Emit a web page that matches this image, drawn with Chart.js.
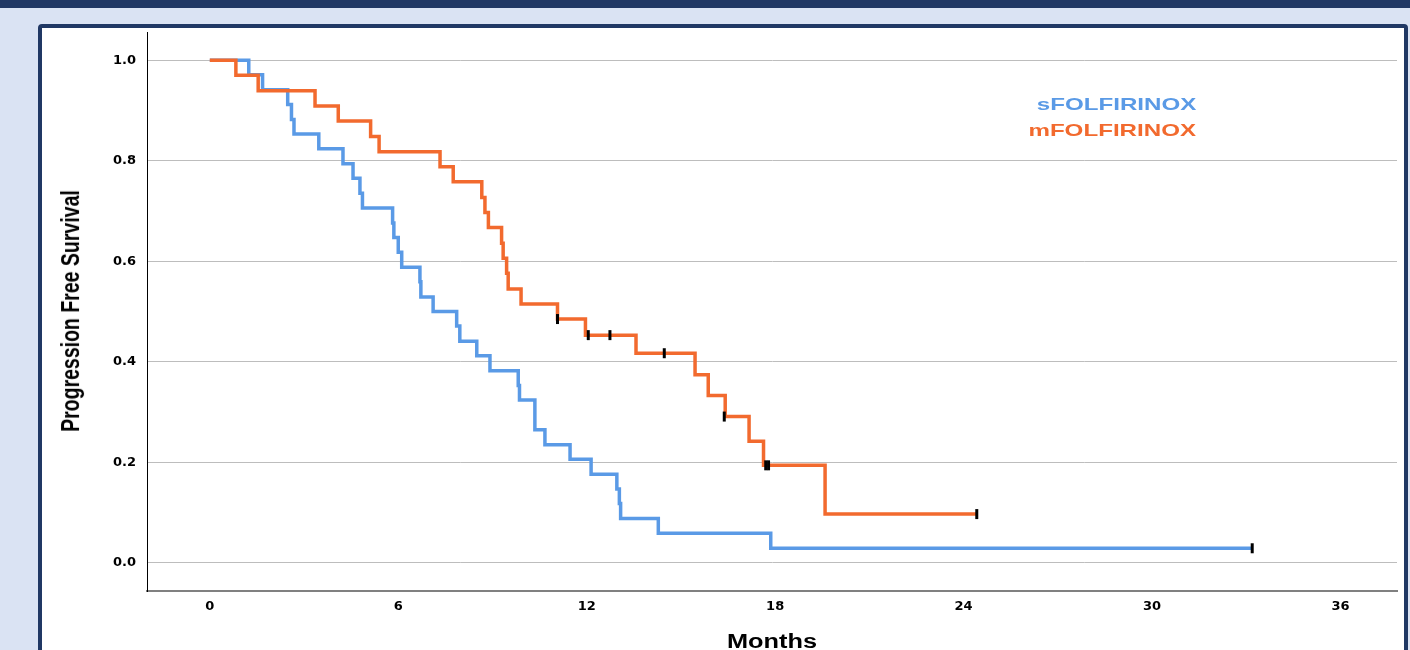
<!DOCTYPE html>
<html>
<head>
<meta charset="utf-8">
<title>Progression Free Survival</title>
<script src="https://cdn.jsdelivr.net/npm/chart.js@4.4.0/dist/chart.umd.min.js"></script>
<style>
  html, body {
    margin: 0;
    padding: 0;
    width: 1410px;
    height: 650px;
    overflow: hidden;
    background: #dae3f3;
    font-family: 'Liberation Sans', Arial, sans-serif;
  }
  .top-bar {
    position: absolute;
    left: 0; top: 0;
    width: 1410px; height: 8px;
    background: #203864;
  }
  .panel {
    position: absolute;
    left: 38px; top: 24px;
    width: 1370px; height: 700px;
    box-sizing: border-box;
    border: 4px solid #203864;
    border-radius: 4px;
    background: #ffffff;
  }
  #km-chart {
    position: absolute;
    left: 0; top: 0;
  }
  .label {
    position: absolute;
    font-weight: bold;
    white-space: nowrap;
  }
  .legend-item {
    right: 214px;
    font-size: 17px;
    transform-origin: right center;
    transform: scaleX(1.42);
  }
  .y-title {
    left: 71px; top: 311px;
    font-size: 19.5px;
    color: #000;
    transform: translate(-50%, -50%) scaleX(1.3) rotate(-90deg);
  }
  .x-title {
    left: 772px; top: 641px;
    font-size: 19.5px;
    color: #000;
    transform: translate(-50%, -50%) scaleX(1.3);
  }
</style>
</head>
<body>
<div class="top-bar"></div>
<div class="panel"></div>
<canvas id="km-chart" width="1410" height="650"></canvas>
<div class="label legend-item" style="top:95px;color:#5a9ae6">sFOLFIRINOX</div>
<div class="label legend-item" style="top:121px;color:#f26a2e">mFOLFIRINOX</div>
<div class="label y-title">Progression Free Survival</div>
<div class="label x-title">Months</div>

<script>
// sFOLFIRINOX (blue) - event times in months and survival after each step
const sTimes = [0, 1.24, 1.68, 2.48, 2.60, 2.68, 3.47, 4.24, 4.56, 4.78, 4.86, 5.82, 5.86, 6.00, 6.11,
  6.69, 6.72, 7.11, 7.86, 7.96, 8.50, 8.92, 9.82, 9.86, 10.35, 10.67, 11.47, 12.14, 12.96, 13.04,
  13.08, 14.28, 17.86, 33.19];
const sSurv = [1.0, 0.971, 0.941, 0.912, 0.882, 0.853, 0.824, 0.794, 0.765, 0.735, 0.706, 0.676, 0.647,
  0.618, 0.588, 0.559, 0.529, 0.500, 0.471, 0.441, 0.412, 0.382, 0.353, 0.324, 0.265, 0.235, 0.206,
  0.176, 0.147, 0.118, 0.088, 0.059, 0.029, 0.029];
const sCensorTimes = [33.19];
const sCensorSurv = [0.029];

// mFOLFIRINOX (orange)
const mTimes = [0, 0.83, 1.54, 3.35, 4.09, 5.12, 5.39, 7.33, 7.75, 8.66, 8.76, 8.87, 9.29, 9.34, 9.45,
  9.50, 9.91, 11.07, 11.96, 13.57, 15.45, 15.87, 16.41, 17.17, 17.63, 19.59, 24.42];
const mSurv = [1.0, 0.970, 0.939, 0.909, 0.879, 0.848, 0.818, 0.788, 0.758, 0.727, 0.697, 0.667, 0.636,
  0.606, 0.576, 0.545, 0.515, 0.485, 0.453, 0.417, 0.374, 0.333, 0.291, 0.242, 0.194, 0.097, 0.097];
const mCensorTimes = [11.07, 12.05, 12.74, 14.47, 16.38, 17.70, 17.79, 24.42];
const mCensorSurv = [0.485, 0.453, 0.453, 0.417, 0.291, 0.194, 0.194, 0.097];

const xTicks = [0, 6, 12, 18, 24, 30, 36];
const yTicks = [0, 0.2, 0.4, 0.6, 0.8, 1.0];

const BLUE = '#5a9ae6';
const ORANGE = '#f26a2e';

function toPoints(xs, ys) {
  return xs.map((x, i) => ({ x: x, y: ys[i] }));
}

function censorSet(xs, ys) {
  return {
    type: 'scatter',
    data: toPoints(xs, ys),
    showLine: false,
    pointStyle: 'line',
    rotation: 90,
    radius: 5,
    hoverRadius: 5,
    borderWidth: 3,
    borderColor: '#000000',
    backgroundColor: '#000000'
  };
}

// KM curve: stays flat at the previous level until the next event, then drops
function curveSet(xs, ys, color) {
  return {
    type: 'line',
    data: toPoints(xs, ys),
    stepped: 'before',
    borderColor: color,
    borderWidth: 3.5,
    pointRadius: 0,
    fill: false
  };
}

const tickFont = { family: "'DejaVu Sans', Verdana, sans-serif", size: 13, weight: 'bold' };

new Chart(document.getElementById('km-chart'), {
  type: 'line',
  data: {
    datasets: [
      censorSet(sCensorTimes, sCensorSurv),
      censorSet(mCensorTimes, mCensorSurv),
      curveSet(mTimes, mSurv, ORANGE),
      curveSet(sTimes, sSurv, BLUE)
    ]
  },
  options: {
    responsive: false,
    animation: false,
    devicePixelRatio: 1,
    layout: { padding: { left: 87, top: 32, right: 13, bottom: 19 } },
    plugins: {
      legend: { display: false },
      tooltip: { enabled: false }
    },
    scales: {
      x: {
        type: 'linear',
        min: -2,
        max: 37.8,
        afterBuildTicks: (scale) => { scale.ticks = xTicks.map(v => ({ value: v })); },
        afterFit: (scale) => { scale.height = 40; },
        grid: { display: false, drawTicks: false },
        border: { display: true, color: '#808080', width: 2 },
        ticks: { color: '#000', font: tickFont, padding: 8, maxRotation: 0 }
      },
      y: {
        type: 'linear',
        min: -0.056,
        max: 1.056,
        afterBuildTicks: (scale) => { scale.ticks = yTicks.map(v => ({ value: v })); },
        afterFit: (scale) => { scale.width = 60; },
        grid: { color: '#bdbdbd', lineWidth: 1, drawTicks: false },
        border: { display: true, color: '#000000', width: 1 },
        ticks: {
          color: '#000',
          font: tickFont,
          padding: 11,
          callback: (v) => Number(v).toFixed(1)
        }
      }
    }
  }
});
</script>
</body>
</html>
